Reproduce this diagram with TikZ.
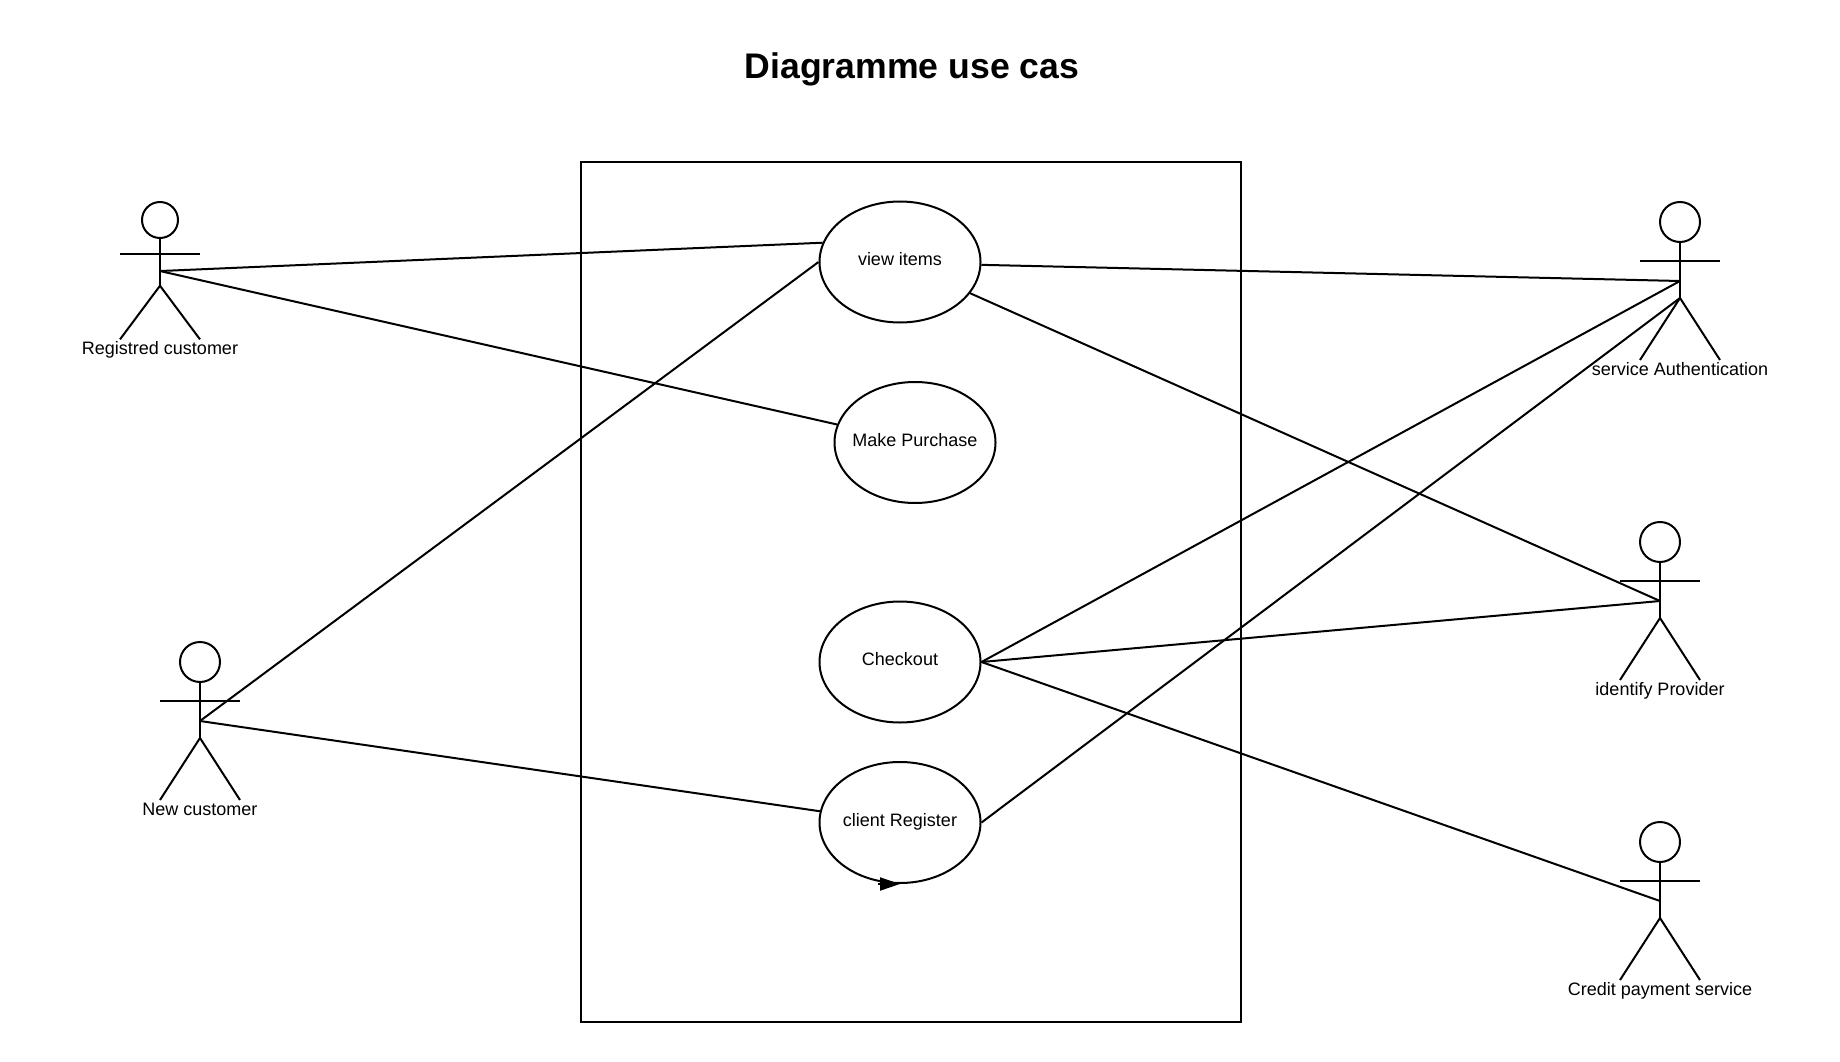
\documentclass[tikz,border=0pt]{standalone}
\usepackage{fontspec}
\setmainfont{Liberation Sans}
\usetikzlibrary{positioning,shapes.geometric,arrows.meta}

\tikzset{
  usecase/.style={ellipse,draw,line width=2pt,minimum width=161pt,minimum height=121pt,inner sep=-15pt,text height=13pt,text depth=5.6pt,font=\fontsize{18}{20}\selectfont},
  actorhead/.style={circle,draw,line width=2pt,inner sep=0pt},
  actorname/.style={anchor=base,font=\fontsize{18}{20}\selectfont},
  link/.style={line width=2pt},
}

% name, x, y of the head, height factor, radius, text
\newcommand{\actorfig}[6]{
  \node[actorhead,minimum size=#5*2pt] (#1head) at (#2,#3) {};
  \coordinate (#1armA) at (#2-40,#3+39*#4);
  \coordinate (#1armB) at (#2+40,#3+39*#4);
  \coordinate (#1grip) at (#2,#3+59*#4);
  \coordinate (#1hip) at (#2,#3+76*#4);
  \coordinate (#1footA) at (#2-40,#3+138*#4);
  \coordinate (#1footB) at (#2+40,#3+138*#4);
  \node[actorname] (#1name) at (#2,#3+138*#4+15) {#6};
  \draw[link] (#1head) -- (#1hip);
  \draw[link] (#1armA) -- (#1armB);
  \draw[link] (#1footA) -- (#1hip) -- (#1footB);
}

\begin{document}
\begin{tikzpicture}[x=1pt,y=-1pt]
  \useasboundingbox (0,0) rectangle (1840,1062);
  \node[font=\fontsize{35.6}{40}\bfseries] (title) at (912,69.5) {Diagramme use cas};
  \node[draw,line width=2pt,minimum width=660pt,minimum height=860pt,inner sep=0pt] (system) at (910.5,592) {};

  \node[usecase] (viewItems) at (900,262) {view items};
  \node[usecase] (makePurchase) at (915,442.5) {Make Purchase};
  \node[usecase] (checkout) at (900,662) {Checkout};
  \node[usecase] (clientRegister) at (900,822.5) {client Register};

  \actorfig{registred}{160}{220}{0.865}{18}{Registred customer}
  \actorfig{newCustomer}{200}{662}{1}{20}{New customer}
  \actorfig{authService}{1680}{222}{1}{20}{service Authentication}
  \actorfig{provider}{1660}{542}{1}{20}{identify Provider}
  \actorfig{payment}{1660}{842}{1}{20}{Credit payment service}

  \draw[link] (registredgrip) -- (viewItems.166);
  \draw[link] (registredgrip) -- (makePurchase.167);
  \draw[link] (newCustomergrip) -- (viewItems.west);
  \draw[link] (newCustomergrip) -- (clientRegister.172);
  \draw[link] (viewItems.-2) -- (authServicegrip);
  \draw[link] (viewItems.-24) -- (providergrip);
  \draw[link] (checkout.east) -- (authServicegrip);
  \draw[link] (checkout.east) -- (providergrip);
  \draw[link] (checkout.east) -- (paymentgrip);
  \draw[link] (clientRegister.east) -- (authServicehip);

  \coordinate (registerLoop) at (878,884);
  \draw[link,-{Triangle[length=20pt,width=13pt]}] (registerLoop) -- (clientRegister.south);
\end{tikzpicture}
\end{document}
